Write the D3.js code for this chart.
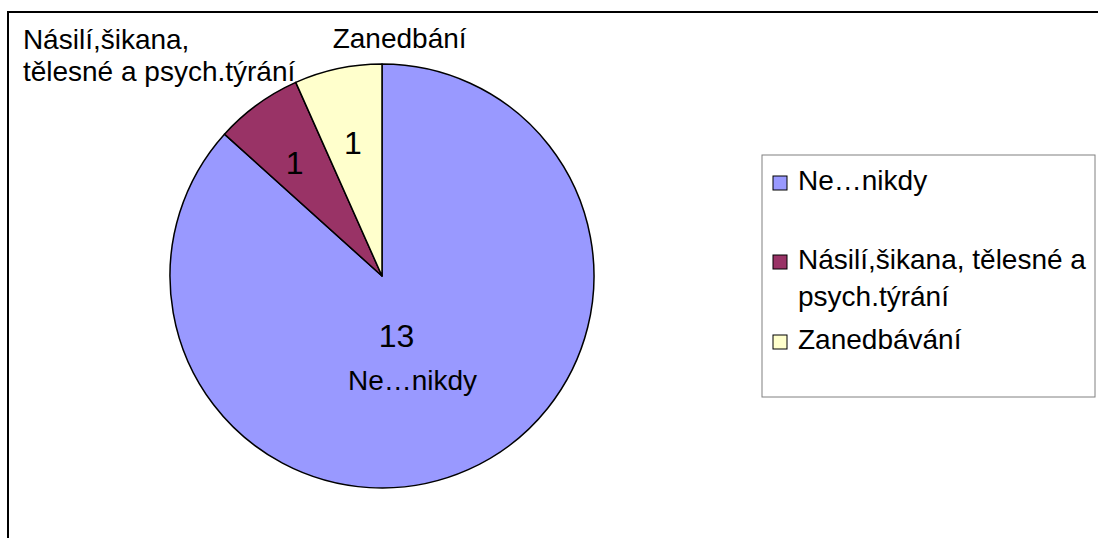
<!DOCTYPE html>
<html>
<head>
<meta charset="utf-8">
<script src="https://cdn.jsdelivr.net/npm/d3@7"></script>
<style>
  body { margin: 0; background: #fff; }
  text { font-family: "Liberation Sans", Arial, sans-serif; fill: #000; }
</style>
</head>
<body>
<div id="graphic"></div>
<script>
// pie data
var categories = ["Ne…nikdy", "Násilí,šikana, tělesné a psych.týrání", "Zanedbávání"];
var values = [13, 1, 1];
var colors = ["#9999ff", "#993366", "#ffffcc"];
// text shown on the pie (outside labels), one array per slice
var sliceLabels = [["Ne…nikdy"], ["Násilí,šikana,", "tělesné a psych.týrání"], ["Zanedbání"]];
// legend text, split in lines
var legendLines = [["Ne…nikdy"], ["Násilí,šikana, tělesné a", "psych.týrání"], ["Zanedbávání"]];

var width = 1098, height = 538;

var svg = d3.select("#graphic").append("svg")
    .attr("width", width)
    .attr("height", height);

// chart frame (bottom/right run off the picture)
svg.append("rect")
    .attr("x", 8).attr("y", 12)
    .attr("width", 1100).attr("height", 540)
    .attr("fill", "#fff")
    .attr("stroke", "#000")
    .attr("stroke-width", 2);

var cx = 382, cy = 276, r = 212;

var pie = d3.pie().sort(null).value(function (d) { return d; });
var arcs = pie(values);

var arc = d3.arc().innerRadius(0).outerRadius(r);
var valueArc = d3.arc().innerRadius(120).outerRadius(160);
var bigArc = d3.arc().innerRadius(60).outerRadius(90);

var g = svg.append("g")
    .attr("transform", "translate(" + cx + "," + cy + ")");

g.selectAll("path")
    .data(arcs)
    .enter()
    .append("path")
    .attr("d", arc)
    .attr("fill", function (d, i) { return colors[i]; })
    .attr("stroke", "#000")
    .attr("stroke-width", 1.5)
    .attr("stroke-linejoin", "round");

// value labels
g.selectAll("text.val")
    .data(arcs)
    .enter()
    .append("text")
    .attr("class", "val")
    .attr("text-anchor", "middle")
    .style("font-size", "32px")
    .attr("transform", function (d, i) {
        var c = i == 0 ? bigArc.centroid(d) : valueArc.centroid(d);
        if (i == 0) return "translate(" + (c[0] - 16) + "," + (c[1] + 2) + ")";
        if (i == 1) return "translate(" + (c[0] - 5) + "," + (c[1] + 11) + ")";
        return "translate(" + c[0] + "," + (c[1] + 15) + ")";
    })
    .text(function (d) { return d.value; });

// category name under the big value
var c0 = bigArc.centroid(arcs[0]);
g.append("text")
    .attr("text-anchor", "middle")
    .style("font-size", "28px")
    .attr("x", c0[0])
    .attr("y", c0[1] + 45)
    .text(sliceLabels[0][0]);

// outside labels for the small slices
var outerArc = d3.arc().innerRadius(r + 40).outerRadius(r + 40);
var p1 = outerArc.centroid(arcs[1]);
var t1 = g.append("text")
    .attr("text-anchor", "start")
    .style("font-size", "28px");
sliceLabels[1].forEach(function (s, k) {
    t1.append("tspan")
        .attr("x", p1[0] - 211)
        .attr("y", p1[1] - 23 + k * 32)
        .text(s);
});

var p2 = outerArc.centroid(arcs[2]);
g.append("text")
    .attr("text-anchor", "middle")
    .style("font-size", "28px")
    .attr("x", p2[0] + 70)
    .attr("y", p2[1] + 18)
    .text(sliceLabels[2][0]);

// legend
var legend = svg.append("g").attr("transform", "translate(762,155)");
legend.append("rect")
    .attr("x", 0).attr("y", 0)
    .attr("width", 333).attr("height", 242)
    .attr("fill", "#fff")
    .attr("stroke", "#808080")
    .attr("stroke-width", 1);

var legendY = [35, 114, 194];
var items = legend.selectAll("g.item")
    .data(categories)
    .enter()
    .append("g")
    .attr("class", "item")
    .attr("transform", function (d, i) { return "translate(0," + legendY[i] + ")"; });

items.append("rect")
    .attr("x", 11).attr("y", -14)
    .attr("width", 14).attr("height", 14)
    .attr("fill", function (d, i) { return colors[i]; })
    .attr("stroke", "#000")
    .attr("stroke-width", 1);

items.append("text")
    .style("font-size", "28px")
    .each(function (d, i) {
        var t = d3.select(this);
        legendLines[i].forEach(function (s, k) {
            t.append("tspan")
                .attr("x", 36)
                .attr("y", k * 37)
                .text(s);
        });
    });
</script>
</body>
</html>
